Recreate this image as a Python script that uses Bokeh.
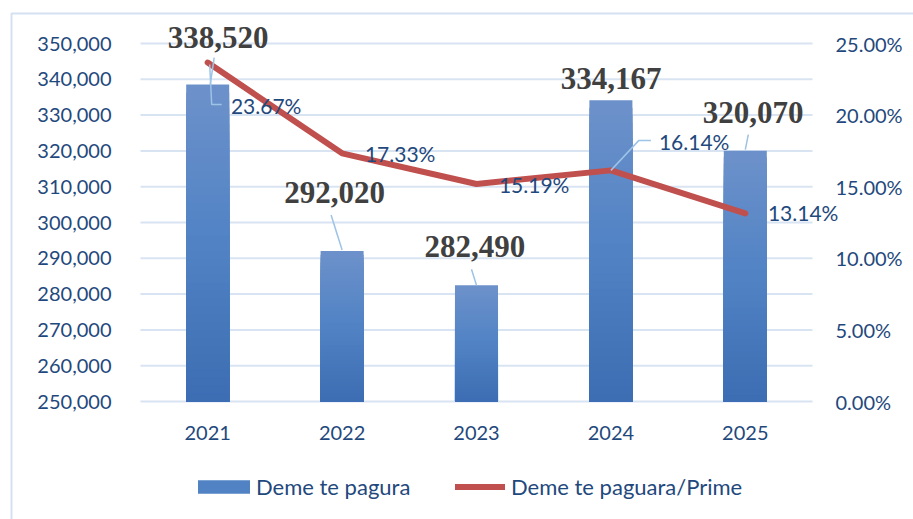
import numpy as np
from bokeh.plotting import figure
from bokeh.core.properties import value
from bokeh.models import (Range1d, LinearAxis, FixedTicker, NumeralTickFormatter,
                          ColumnDataSource, LabelSet, Legend, LegendItem)
from bokeh.embed import file_html
from bokeh.resources import INLINE

# ---------------- data ----------------
years = ["2021", "2022", "2023", "2024", "2025"]
unpaid = [338520, 292020, 282490, 334167, 320070]          # Deme te pagura
ratio = [0.2367, 0.1733, 0.1519, 0.1614, 0.1314]           # Deme te paguara/Prime
unpaid_labels = ["338,520", "292,020", "282,490", "334,167", "320,070"]
ratio_labels = ["23.67%", "17.33%", "15.19%", "16.14%", "13.14%"]
left_ticks = [250000, 260000, 270000, 280000, 290000, 300000, 310000, 320000, 330000, 340000, 350000]
right_ticks = [0.0, 0.05, 0.10, 0.15, 0.20, 0.25]

# ---------------- layout ----------------
W, H = 913, 519
G_L, G_R, G_T, G_B = 140, 812, 43, 401      # plot area (gridlines) in canvas px
YMIN, YMAX = 250000, 350000
PMAX = 0.25
n = len(years)
cat_px = (G_R - G_L) / n
y_per_px = (YMAX - YMIN) / (G_B - G_T)
p_per_px = PMAX / (G_B - G_T)

def X(px):   # canvas px -> x data
    return -0.5 + (px - G_L) / cat_px
def Y(py):   # canvas px -> left-axis data
    return YMAX - (py - G_T) * y_per_px
def P(py):   # canvas px -> right-axis data
    return PMAX - (py - G_T) * p_per_px

TXT = "#1F497D"
GRID = "#D9E4F3"
SANS = "Lato"

xs = list(range(n))

p = figure(width=W, height=H, output_backend="svg", toolbar_location=None,
           x_range=Range1d(X(0), X(W)), y_range=Range1d(Y(H), Y(0)),
           min_border=0)
p.extra_y_ranges = {"pct": Range1d(P(H), P(0))}
p.outline_line_color = None
p.xgrid.visible = False
p.ygrid.visible = False

def style_axis(ax, standoff):
    ax.axis_line_color = None
    ax.major_tick_line_color = None
    ax.minor_tick_line_color = None
    ax.major_tick_out = 0
    ax.major_tick_in = 0
    ax.major_label_text_font = SANS
    ax.major_label_text_font_size = "20px"
    ax.major_label_text_color = TXT
    ax.major_label_standoff = standoff

p.yaxis.ticker = FixedTicker(ticks=left_ticks)
p.yaxis.formatter = NumeralTickFormatter(format="0,0")
p.yaxis.fixed_location = -0.5
style_axis(p.yaxis[0], 29)

rax = LinearAxis(y_range_name="pct", ticker=FixedTicker(ticks=right_ticks),
                 formatter=NumeralTickFormatter(format="0.00%"), fixed_location=n - 0.5)
style_axis(rax, 23)
p.add_layout(rax, "right")

p.xaxis.ticker = FixedTicker(ticks=xs)
p.xaxis.major_label_overrides = {i: y for i, y in enumerate(years)}
p.xaxis.fixed_location = YMIN
style_axis(p.xaxis[0], 24)

# chart-area border (left and top edges)
p.line(x=[X(11), X(11), X(W + 5)], y=[Y(H + 5), Y(13), Y(13)],
       line_color="#D5E1F2", line_width=2)

# horizontal gridlines over the category area
p.segment(x0=-0.5, x1=n - 0.5, y0=left_ticks, y1=left_ticks,
          line_color=GRID, line_width=2)

# bars with vertical gradient (light at top, darker at bottom)
stops = [(0.0, (108, 145, 202)), (0.5, (80, 130, 196)), (1.0, (60, 108, 178))]
def grad(t):
    for (t0, c0), (t1, c1) in zip(stops[:-1], stops[1:]):
        if t <= t1:
            f = (t - t0) / (t1 - t0)
            return "#%02x%02x%02x" % tuple(int(round(a + (b - a) * f)) for a, b in zip(c0, c1))
    return "#%02x%02x%02x" % stops[-1][1]

N = 40
bx, btop, bcol = [], [], []
for k in range(N, 0, -1):
    for i, v in enumerate(unpaid):
        bx.append(xs[i])
        btop.append(YMIN + (v - YMIN) * k / N)
        bcol.append(grad(1 - k / N))
bar_src = ColumnDataSource(dict(x=bx, top=btop, color=bcol))
bars = p.vbar(x="x", bottom=YMIN, top="top", width=0.32, fill_color="color",
              line_color=None, source=bar_src)

line = p.line(x=xs, y=ratio, y_range_name="pct", line_color="#C0504D",
              line_width=6, line_cap="round", line_join="round")

# leader lines (offsets in px from anchor, y down)
def to_left(r):
    return YMIN + r / PMAX * (YMAX - YMIN)
bar_leaders = {0: [(6.5, -27), (2.5, 0)], 1: [(-11, -36), (0, -1)],
               2: [(-5, -16), (0, 0)], 4: [(3, -16), (0, -1)]}
pct_leaders = {0: [(2, 2), (4, 42), (14, 42)], 3: [(0, 0), (28, -30), (40, -30)]}
lx, ly = [], []
for i, pts in bar_leaders.items():
    lx.append([xs[i] + dx / cat_px for dx, dy in pts])
    ly.append([unpaid[i] - dy * y_per_px for dx, dy in pts])
for i, pts in pct_leaders.items():
    lx.append([xs[i] + dx / cat_px for dx, dy in pts])
    ly.append([to_left(ratio[i]) - dy * y_per_px for dx, dy in pts])
p.multi_line(xs=lx, ys=ly, line_color="#9DC3E6", line_width=1.5)

# data labels
bar_lab = ColumnDataSource(dict(x=xs, y=unpaid, text=unpaid_labels,
                                xo=[10.5, -7.4, -1.6, 0.3, 7.9],
                                yo=[47.5, 58.7, 38.4, 21.3, 37.9]))
p.add_layout(LabelSet(x="x", y="y", text="text", x_offset="xo", y_offset="yo",
                      source=bar_lab, text_align="center", text_baseline="middle",
                      text_font=value("Liberation Serif"), text_font_style="bold",
                      text_font_size="31px", text_color="#404040"))

pct_lab = ColumnDataSource(dict(x=xs, y=ratio, text=ratio_labels,
                                xo=[58.5, 58.1, 57.7, 83.3, 57.9],
                                yo=[-42.5, 0, -0.8, 29.2, 0.6]))
p.add_layout(LabelSet(x="x", y="y", y_range_name="pct", text="text", x_offset="xo",
                      y_offset="yo", source=pct_lab, text_align="center",
                      text_baseline="middle", text_font=value(SANS), text_font_size="21px",
                      text_color=TXT))

# legends (one per series so each glyph gets its own size)
leg_style = dict(orientation="horizontal", padding=0, margin=0, border_line_color=None,
                 background_fill_alpha=0, label_text_font=SANS,
                 label_text_font_size="22px", label_text_color=TXT)
leg1 = Legend(items=[LegendItem(label="Deme te pagura", renderers=[bars], index=len(bx) // 2)],
              location=(191, 19), glyph_width=65, glyph_height=17, label_standoff=0, **leg_style)
leg2 = Legend(items=[LegendItem(label="Deme te paguara/Prime", renderers=[line])],
              location=(455, 19), glyph_width=50, glyph_height=17, label_standoff=6, **leg_style)
p.add_layout(leg1)
p.add_layout(leg2)

open("out.html", "w").write(file_html(p, INLINE))
